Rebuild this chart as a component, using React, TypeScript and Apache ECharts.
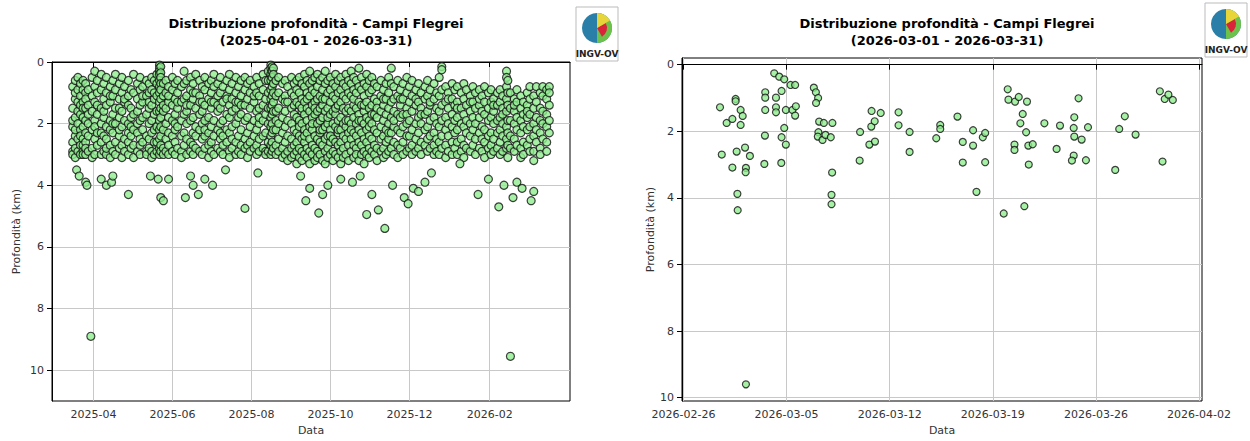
import React, { useEffect, useRef } from "react";
import * as echarts from "echarts";

// ---------- LEFT CHART DATA (days since 2025-03-01, depth km) ----------
const leftBase = Date.UTC(2025, 2, 1);
const leftBand: [number, number[]][] = [
  [15, [0.8, 1.5, 2.1, 2.6, 2.9, 3.0, 1.9]],
  [17, [0.6, 1.2, 1.8, 2.4, 2.8, 3.1, 2.2, 1.0]],
  [19, [0.5, 0.9, 1.6, 2.0, 2.5, 2.9, 1.3]],
  [21, [0.7, 1.1, 1.4, 2.2, 2.7, 3.0, 1.7, 2.4]],
  [23, [0.6, 0.9, 1.3, 1.8, 2.1, 2.5, 2.9, 3.0, 1.5, 2.7]],
  [25, [0.7, 1.0, 1.5, 1.9, 2.3, 2.6, 3.0, 1.2, 2.8]],
  [27, [0.9, 1.4, 2.0, 2.4, 2.9, 1.7]],
  [30, [0.5, 1.1, 1.6, 2.2, 2.8, 3.1]],
  [32, [0.3, 0.8, 1.3, 1.9, 2.5, 3.0, 2.1]],
  [34, [0.6, 1.0, 1.7, 2.3, 2.7, 1.4]],
  [37, [0.4, 0.9, 1.5, 2.0, 2.6, 3.0, 2.3]],
  [39, [0.7, 1.2, 1.8, 2.4, 2.9, 1.6]],
  [41, [0.5, 1.0, 1.4, 2.1, 2.5, 3.0, 2.8]],
  [44, [0.8, 1.3, 1.9, 2.2, 2.7, 1.1, 3.1]],
  [46, [0.6, 1.1, 1.7, 2.3, 2.9, 2.0]],
  [48, [0.4, 0.9, 1.5, 2.0, 2.6, 3.0]],
  [51, [0.7, 1.2, 1.8, 2.4, 2.8, 1.5, 2.2]],
  [53, [0.5, 1.0, 1.6, 2.1, 2.7, 3.1]],
  [55, [0.8, 1.3, 1.9, 2.5, 2.9, 1.2]],
  [58, [0.6, 1.1, 1.4, 2.0, 2.6, 3.0, 2.3]],
  [60, [0.9, 1.5, 2.1, 2.4, 2.8, 1.8]],
  [62, [0.4, 1.0, 1.7, 2.2, 2.7, 3.1]],
  [65, [0.7, 1.2, 1.6, 2.3, 2.9, 2.0]],
  [67, [0.5, 0.9, 1.4, 1.9, 2.5, 3.0, 2.7]],
  [69, [0.8, 1.3, 1.8, 2.2, 2.6, 1.1]],
  [72, [0.6, 1.1, 1.7, 2.4, 2.9, 3.0]],
  [74, [0.7, 1.0, 1.5, 2.0, 2.5, 2.8, 1.3]],
  [76, [0.5, 0.9, 1.4, 1.9, 2.3, 2.9, 3.1]],
  [78, [0.6, 1.2, 1.7, 2.2, 2.6, 3.0, 1.0]],
  [80, [0.4, 0.7, 1.1, 1.6, 2.1, 2.6, 2.9]],
  [82, [0.1, 0.2, 0.3, 0.4, 0.6, 0.8, 1.0, 1.3, 1.6, 1.9, 2.2, 2.5, 2.8, 3.0]],
  [83, [0.15, 0.35, 0.5, 0.7, 0.9, 1.2, 1.5, 1.8, 2.1, 2.4, 2.7, 2.9]],
  [85, [0.7, 1.1, 1.6, 2.2, 2.8, 3.0, 1.4]],
  [87, [0.6, 1.0, 1.5, 2.0, 2.5, 2.9]],
  [89, [0.8, 1.3, 1.8, 2.3, 2.7, 1.1, 3.0]],
  [92, [0.5, 0.9, 1.4, 1.9, 2.4, 2.9]],
  [94, [0.7, 1.2, 1.7, 2.2, 2.6, 3.0, 2.0]],
  [96, [0.6, 1.0, 1.5, 2.1, 2.8, 1.3]],
  [99, [0.8, 1.3, 1.9, 2.4, 2.9, 3.1]],
  [101, [0.3, 0.7, 1.2, 1.7, 2.3, 2.7]],
  [103, [0.6, 1.1, 1.6, 2.0, 2.5, 3.0, 1.4]],
  [106, [0.5, 0.9, 1.4, 1.9, 2.6, 2.9]],
  [108, [0.7, 1.2, 1.8, 2.3, 2.7, 3.0, 1.0]],
  [110, [0.4, 1.0, 1.5, 2.1, 2.4, 2.8]],
  [113, [0.6, 1.1, 1.7, 2.2, 2.9, 1.3]],
  [115, [0.8, 1.3, 1.6, 2.0, 2.5, 3.0]],
  [117, [0.5, 0.9, 1.4, 1.9, 2.4, 2.8, 2.2]],
  [120, [0.7, 1.2, 1.8, 2.3, 2.7, 3.1]],
  [122, [0.6, 1.0, 1.5, 2.1, 2.6, 2.9, 1.3]],
  [124, [0.4, 0.8, 1.3, 1.9, 2.4, 3.0]],
  [127, [0.7, 1.1, 1.6, 2.2, 2.8, 1.4]],
  [129, [0.5, 1.0, 1.5, 2.0, 2.5, 2.9, 2.3]],
  [131, [0.8, 1.3, 1.9, 2.4, 2.7, 3.0]],
  [134, [0.6, 1.1, 1.7, 2.2, 2.6, 1.2]],
  [136, [0.4, 0.9, 1.4, 1.8, 2.3, 2.9, 3.1]],
  [138, [0.7, 1.2, 1.6, 2.1, 2.5, 2.8]],
  [141, [0.5, 1.0, 1.5, 2.0, 2.6, 3.0, 1.3]],
  [143, [0.8, 1.3, 1.8, 2.4, 2.9]],
  [145, [0.6, 1.1, 1.7, 2.2, 2.7, 1.4, 3.0]],
  [148, [0.5, 0.9, 1.4, 1.9, 2.5, 2.8]],
  [150, [0.7, 1.2, 1.8, 2.3, 2.7, 3.1]],
  [152, [0.6, 1.0, 1.5, 2.1, 2.6, 2.9]],
  [155, [0.8, 1.3, 1.9, 2.4, 2.8, 1.1]],
  [157, [0.5, 1.0, 1.6, 2.2, 2.7, 3.0]],
  [159, [0.7, 1.1, 1.5, 2.0, 2.5, 2.9, 1.8]],
  [162, [0.4, 0.9, 1.4, 1.9, 2.4, 2.8]],
  [164, [0.6, 1.2, 1.7, 2.3, 2.9, 3.0]],
  [166, [0.3, 0.6, 1.0, 1.5, 2.0, 2.6, 2.9]],
  [168, [0.1, 0.2, 0.4, 0.6, 0.9, 1.2, 1.5, 1.8, 2.1, 2.4, 2.7, 3.0]],
  [169, [0.15, 0.3, 0.5, 0.8, 1.1, 1.4, 1.7, 2.0, 2.3, 2.6, 2.9]],
  [170, [0.2, 0.4, 0.7, 1.0, 1.3, 1.6, 2.2, 2.8]],
  [172, [0.6, 1.1, 1.6, 2.2, 2.7, 3.0, 1.9]],
  [174, [0.5, 1.0, 1.5, 2.0, 2.5, 2.9]],
  [177, [0.7, 1.2, 1.8, 2.3, 2.8, 3.1]],
  [179, [0.6, 1.1, 1.6, 2.1, 2.6, 3.0, 1.3]],
  [181, [0.8, 1.3, 1.9, 2.4, 2.9, 3.2]],
  [184, [0.5, 1.0, 1.5, 2.0, 2.5, 2.8, 3.1]],
  [186, [0.7, 1.1, 1.7, 2.2, 2.7, 3.0, 1.4]],
  [188, [0.6, 0.9, 1.3, 1.8, 2.3, 2.6, 2.9, 3.3]],
  [190, [0.5, 1.0, 1.4, 1.9, 2.4, 2.8, 3.1, 2.1]],
  [192, [0.7, 1.2, 1.6, 2.0, 2.5, 2.9, 3.2, 1.5]],
  [194, [0.4, 0.8, 1.3, 1.7, 2.2, 2.6, 3.0, 2.4]],
  [196, [0.6, 1.0, 1.5, 1.9, 2.3, 2.8, 3.1, 1.2]],
  [198, [0.3, 0.7, 1.1, 1.6, 2.1, 2.5, 2.9, 3.3]],
  [200, [0.6, 0.9, 1.4, 1.8, 2.2, 2.7, 3.0, 2.0]],
  [202, [0.5, 1.0, 1.3, 1.7, 2.4, 2.8, 3.2, 1.5]],
  [204, [0.4, 0.8, 1.2, 1.6, 2.0, 2.5, 2.9, 3.1]],
  [206, [0.6, 1.1, 1.5, 1.9, 2.3, 2.6, 3.0, 2.2]],
  [208, [0.5, 0.9, 1.4, 1.8, 2.2, 2.7, 3.2, 1.2]],
  [210, [0.3, 0.7, 1.2, 1.6, 2.1, 2.5, 2.9, 3.3]],
  [212, [0.6, 1.0, 1.5, 2.0, 2.4, 2.8, 3.1, 1.8]],
  [214, [0.5, 0.9, 1.3, 1.7, 2.2, 2.6, 3.0, 2.4]],
  [216, [0.7, 1.1, 1.6, 2.0, 2.5, 2.9, 3.2]],
  [218, [0.4, 0.8, 1.2, 1.7, 2.1, 2.6, 3.0, 1.5]],
  [220, [0.6, 1.0, 1.4, 1.9, 2.3, 2.7, 3.1, 2.2]],
  [222, [0.5, 0.9, 1.3, 1.8, 2.2, 2.6, 2.9, 3.3]],
  [224, [0.7, 1.1, 1.5, 2.0, 2.4, 2.8, 3.1]],
  [226, [0.4, 0.8, 1.2, 1.6, 2.1, 2.5, 3.0, 1.9]],
  [228, [0.6, 1.0, 1.5, 1.9, 2.3, 2.7, 3.2]],
  [230, [0.3, 0.7, 1.1, 1.6, 2.0, 2.5, 2.9, 2.2]],
  [232, [0.5, 0.9, 1.4, 1.8, 2.3, 2.7, 3.1, 1.2]],
  [234, [0.6, 1.0, 1.5, 2.0, 2.4, 2.8, 3.0]],
  [236, [0.2, 0.8, 1.3, 1.7, 2.2, 2.6, 3.2, 1.9]],
  [238, [0.5, 0.9, 1.4, 1.9, 2.3, 2.7, 3.0]],
  [240, [0.7, 1.1, 1.6, 2.0, 2.5, 2.9, 3.3, 1.4]],
  [242, [0.4, 0.8, 1.3, 1.8, 2.2, 2.6, 3.0]],
  [244, [0.6, 1.0, 1.5, 1.9, 2.4, 2.8, 3.1, 2.1]],
  [246, [0.5, 0.9, 1.4, 2.0, 2.5, 2.9, 1.7]],
  [248, [0.7, 1.2, 1.7, 2.2, 2.7, 3.0]],
  [250, [0.8, 1.3, 1.8, 2.3, 2.8, 3.2, 1.5]],
  [253, [0.6, 1.1, 1.6, 2.1, 2.5, 2.9]],
  [255, [0.9, 1.4, 1.9, 2.4, 2.8, 3.1, 1.2]],
  [257, [0.7, 1.2, 1.7, 2.2, 2.6, 3.0]],
  [259, [0.5, 1.0, 1.5, 2.0, 2.5, 2.9, 2.3]],
  [261, [0.2, 0.7, 1.3, 1.8, 2.3, 2.8]],
  [263, [0.8, 1.2, 1.6, 2.1, 2.6, 3.0, 1.9]],
  [266, [0.6, 1.1, 1.7, 2.2, 2.7, 3.1]],
  [268, [0.9, 1.4, 1.8, 2.3, 2.8, 1.2]],
  [270, [0.7, 1.2, 1.7, 2.1, 2.6, 3.0]],
  [273, [0.5, 1.0, 1.5, 2.0, 2.4, 2.9, 1.7]],
  [275, [0.8, 1.3, 1.9, 2.4, 2.8]],
  [277, [0.6, 1.1, 1.6, 2.2, 2.7, 3.0]],
  [280, [0.9, 1.4, 2.0, 2.5, 2.9, 1.2]],
  [282, [0.7, 1.3, 1.8, 2.3, 2.8]],
  [284, [1.0, 1.5, 2.0, 2.6, 3.0, 1.7]],
  [287, [0.8, 1.2, 1.7, 2.2, 2.7]],
  [289, [0.6, 1.1, 1.6, 2.1, 2.5, 2.9]],
  [291, [0.9, 1.4, 1.9, 2.4, 2.8, 1.3]],
  [294, [0.7, 1.2, 1.8, 2.3, 2.7, 3.0]],
  [296, [1.0, 1.5, 2.0, 2.5, 2.9]],
  [298, [0.5, 1.1, 1.6, 2.1, 2.6, 3.0]],
  [300, [0.15, 0.25, 0.9, 1.4, 1.9, 2.4, 2.8]],
  [303, [0.8, 1.3, 1.8, 2.2, 2.7, 3.1]],
  [305, [1.0, 1.5, 2.0, 2.4, 2.9, 1.2]],
  [308, [0.7, 1.2, 1.7, 2.1, 2.6, 3.0]],
  [310, [0.9, 1.4, 1.9, 2.3, 2.8]],
  [312, [0.8, 1.3, 1.8, 2.2, 2.6, 3.0, 1.5]],
  [315, [1.0, 1.5, 2.0, 2.5, 2.9]],
  [317, [0.7, 1.2, 1.7, 2.1, 2.7, 3.1]],
  [319, [0.9, 1.4, 1.9, 2.3, 2.8]],
  [322, [1.1, 1.6, 2.0, 2.4, 2.9, 1.3]],
  [324, [0.8, 1.3, 1.8, 2.2, 2.7]],
  [326, [1.0, 1.5, 2.0, 2.5, 3.0]],
  [329, [0.9, 1.4, 1.8, 2.3, 2.8, 1.2]],
  [331, [1.1, 1.6, 2.1, 2.5, 2.9]],
  [333, [0.8, 1.3, 1.7, 2.2, 2.6, 3.1]],
  [336, [1.0, 1.5, 1.9, 2.4, 2.8]],
  [338, [0.9, 1.3, 1.8, 2.3, 2.7, 3.0]],
  [340, [1.2, 1.6, 2.0, 2.5, 2.9, 1.4]],
  [343, [1.0, 1.4, 1.9, 2.3, 2.8]],
  [345, [0.9, 1.3, 1.8, 2.2, 2.6, 3.0]],
  [347, [1.1, 1.5, 2.0, 2.4, 2.9, 1.7]],
  [350, [0.3, 0.5, 0.8, 1.2, 1.6, 2.1, 2.5, 2.8]],
  [351, [0.6, 1.0, 1.4, 1.9, 2.3, 2.7, 3.1]],
  [353, [1.0, 1.5, 1.9, 2.4, 2.8]],
  [356, [1.2, 1.6, 2.0, 2.5, 2.9, 1.4]],
  [358, [0.9, 1.3, 1.8, 2.2, 2.7]],
  [361, [1.1, 1.5, 1.9, 2.3, 2.8, 3.1]],
  [363, [1.3, 1.7, 2.1, 2.6, 3.0]],
  [366, [1.0, 1.4, 1.8, 2.2, 2.7, 1.6]],
  [368, [0.8, 1.2, 1.7, 2.1, 2.5, 2.9]],
  [371, [1.1, 1.5, 2.0, 2.4, 2.9, 3.2]],
  [373, [0.8, 1.3, 1.8, 2.2, 2.6]],
  [376, [1.0, 1.5, 1.9, 2.3, 2.8, 3.0]],
  [378, [0.8, 1.1, 1.6, 2.0, 2.5]],
  [381, [0.9, 1.2, 1.7, 2.1, 2.6, 2.9]],
  [383, [0.8, 1.0, 1.4, 1.9, 2.3]],
];
// deeper scattered events: [day, depth]
const leftDeep: [number, number][] = [
  [18, 3.5], [20, 3.7], [25, 3.9], [26, 4.0], [29, 8.9], [37, 3.8], [41, 4.0], [45, 3.9], [46, 3.7],
  [58, 4.3], [75, 3.7], [81, 3.8], [83, 4.4], [85, 4.5], [89, 3.8], [102, 4.4], [106, 3.7],
  [108, 4.0], [112, 4.3], [117, 3.8], [123, 4.0], [133, 3.5], [148, 4.75], [158, 3.6],
  [191, 3.7], [195, 4.5], [198, 4.1], [205, 4.9], [208, 4.3], [212, 4.0], [222, 3.8],
  [231, 3.9], [237, 3.7], [242, 4.95], [246, 4.3], [251, 4.8], [256, 5.4], [262, 4.0],
  [271, 4.4], [274, 4.6], [278, 4.1], [282, 4.2], [287, 3.9], [292, 3.6], [314, 3.3],
  [328, 4.3], [336, 3.8], [344, 4.7], [348, 4.0], [353, 9.55], [355, 4.4], [358, 3.9],
  [362, 4.1], [369, 4.5], [371, 4.2],
];

// ---------- RIGHT CHART DATA (days since 2026-02-26, depth km) ----------
const rightBase = Date.UTC(2026, 1, 26);
const rightDays: number[] = [
  2.48, 2.6, 2.93, 3.32, 3.32, 3.54, 3.54, 3.61, 3.66, 3.68, 3.88, 3.88, 4.02, 4.18, 4.24, 4.22, 4.51, 4.24,
  5.49, 5.53, 5.55, 5.55, 5.55, 6.16, 6.28, 6.28, 6.28, 6.5, 6.66, 6.66, 6.64, 6.84, 6.84, 6.95, 6.95,
  7.27, 7.58, 7.4, 7.63, 7.58, 8.85, 8.99, 9.14, 9.0, 9.21, 9.53, 10.11, 9.16, 9.12, 9.44, 9.64, 10.0,
  10.09, 10.05, 10.05, 11.99, 11.96, 12.62, 13.0, 12.75, 12.98, 12.77, 13.39, 14.6, 14.6, 15.35, 15.35,
  17.16, 17.43, 17.43, 18.6, 18.96, 18.96, 19.66, 19.66, 19.89, 20.32, 20.48, 20.48,
  22.01, 22.06, 22.51, 22.76, 23.32, 23.03, 22.87, 23.26, 22.47, 22.47, 23.41, 23.71, 23.44, 21.74,
  23.14, 24.5, 25.33, 25.56, 26.49, 26.53, 26.82, 26.53, 27.03, 27.46, 26.49, 26.37, 27.32,
  29.31, 29.58, 29.96, 30.69, 32.34, 32.67, 32.92, 33.22, 32.52,
];
const rightDepths: number[] = [
  1.28, 2.7, 1.75, 1.63, 3.09, 1.03, 1.1, 2.61, 3.88, 4.37, 1.36, 1.81, 1.54, 2.49, 3.1, 3.23, 2.74, 9.6,
  2.98, 2.13, 0.83, 0.99, 1.36, 0.26, 0.99, 1.28, 1.43, 0.36, 0.79, 2.18, 2.95, 0.44, 1.9, 2.4, 1.36,
  0.61, 0.61, 1.36, 1.25, 1.53, 0.69, 0.83, 1.0, 1.15, 1.71, 1.75, 1.75, 2.03, 2.16, 2.26, 2.11, 2.18,
  3.24, 3.91, 4.19, 2.02, 2.88, 2.4, 2.31, 1.86, 1.7, 1.39, 1.45, 1.43, 1.82, 2.02, 2.62,
  2.21, 1.81, 1.93, 1.56, 2.32, 2.94, 1.97, 2.43, 3.82, 2.18, 2.05, 2.93,
  0.74, 1.05, 1.11, 0.97, 1.11, 1.48, 1.76, 2.03, 2.4, 2.56, 2.43, 2.39, 3.0, 4.47,
  4.25, 1.76, 2.53, 1.83, 1.9, 1.58, 1.01, 2.16, 2.25, 1.88, 2.73, 2.88, 2.87,
  3.16, 1.93, 1.55, 2.1, 0.8, 1.03, 0.9, 1.06, 2.91,
];

const leftTicks = ["2025-04-01", "2025-06-01", "2025-08-01", "2025-10-01", "2025-12-01", "2026-02-01"];
const rightTicks = ["2026-02-26", "2026-03-05", "2026-03-12", "2026-03-19", "2026-03-26", "2026-04-02"];
const depthTicks = [0, 2, 4, 6, 8, 10];

const DAY = 86400000;
const ts = (s: string) => Date.parse(s + "T00:00:00Z");
const fmtMonth = (v: number) => {
  const d = new Date(v);
  return `${d.getUTCFullYear()}-${String(d.getUTCMonth() + 1).padStart(2, "0")}`;
};
const fmtDay = (v: number) => {
  const d = new Date(v);
  return `${fmtMonth(v)}-${String(d.getUTCDate()).padStart(2, "0")}`;
};

export default function App() {
  const ref = useRef<HTMLDivElement>(null);
  useEffect(() => {
    if (!ref.current) return;
    const chart = echarts.init(ref.current, undefined, { renderer: "svg" });
    const leftData: number[][] = [];
    leftBand.forEach(([d, arr]) => arr.forEach((v) => leftData.push([leftBase + d * DAY, v])));
    leftDeep.forEach(([d, v]) => leftData.push([leftBase + d * DAY, v]));
    const rightData = rightDays.map((d, i) => [rightBase + d * DAY, rightDepths[i]]);

    const font = "DejaVu Sans";
    const axisLabel = { color: "#333", fontSize: 11, fontFamily: font };
    const splitLine = { show: true, lineStyle: { color: "#c8c8c8", width: 1 } };
    const marker = { color: "#90ee90", borderColor: "#111", borderWidth: 1.2 };
    const logo = (x: number, y: number) => ({
      type: "group",
      x,
      y,
      children: [
        { type: "rect", shape: { x: 0, y: 0, width: 42, height: 54 }, style: { fill: "#fff", stroke: "#bbb", lineWidth: 1 } },
        { type: "circle", shape: { cx: 21, cy: 21, r: 15 }, style: { fill: "#2a7fa8" } },
        { type: "sector", shape: { cx: 21, cy: 21, r: 15, startAngle: -Math.PI / 2, endAngle: Math.PI / 2 }, style: { fill: "#6cc24a" } },
        { type: "sector", shape: { cx: 21, cy: 21, r: 10, startAngle: -Math.PI / 6, endAngle: Math.PI / 3 }, style: { fill: "#d9243a" } },
        { type: "sector", shape: { cx: 21, cy: 21, r: 15, startAngle: -Math.PI / 2, endAngle: -Math.PI / 6 }, style: { fill: "#e8d53a" } },
        { type: "text", x: 21, y: 47, style: { text: "INGV-OV", fill: "#222", font: `bold 9px ${font}`, align: "center", verticalAlign: "middle" } },
      ],
    });

    chart.setOption({
      animation: false,
      backgroundColor: "#fff",
      title: [
        {
          text: "Distribuzione profondità - Campi Flegrei\n(2025-04-01 - 2026-03-31)",
          left: 311,
          top: 10,
          textAlign: "center",
          textStyle: { fontFamily: font, fontSize: 13, fontWeight: "bold", color: "#000", lineHeight: 17 },
        },
        {
          text: "Distribuzione profondità - Campi Flegrei\n(2026-03-01 - 2026-03-31)",
          left: 942,
          top: 10,
          textAlign: "center",
          textStyle: { fontFamily: font, fontSize: 13, fontWeight: "bold", color: "#000", lineHeight: 17 },
        },
      ],
      grid: [
        { left: 52, right: 680, top: 62, bottom: 38, show: true, borderColor: "#000", borderWidth: 1 },
        { left: 682, right: 48, top: 58, bottom: 38, show: true, borderColor: "#000", borderWidth: 1 },
      ],
      xAxis: [
        {
          gridIndex: 0,
          type: "value",
          min: Date.UTC(2025, 1, 28),
          max: Date.UTC(2026, 3, 4),
          name: "Data",
          nameLocation: "middle",
          nameGap: 24,
          nameTextStyle: { ...axisLabel },
          axisLine: { lineStyle: { color: "#000" } },
          axisTick: { show: true, customValues: leftTicks.map(ts), lineStyle: { color: "#000" } },
          axisLabel: { ...axisLabel, customValues: leftTicks.map(ts), formatter: (v: number) => fmtMonth(v) },
          splitLine,
        },
        {
          gridIndex: 1,
          type: "value",
          min: rightBase - 0.1 * DAY,
          max: ts("2026-04-02") + 0.2 * DAY,
          name: "Data",
          nameLocation: "middle",
          nameGap: 24,
          nameTextStyle: { ...axisLabel },
          axisLine: { lineStyle: { color: "#000" } },
          axisTick: { show: true, customValues: rightTicks.map(ts), lineStyle: { color: "#000" } },
          axisLabel: { ...axisLabel, customValues: rightTicks.map(ts), formatter: (v: number) => fmtDay(v) },
          splitLine,
        },
      ],
      yAxis: [
        {
          gridIndex: 0,
          type: "value",
          inverse: true,
          min: 0,
          max: 11,
          name: "Profondità (km)",
          nameLocation: "middle",
          nameGap: 30,
          nameTextStyle: { ...axisLabel },
          axisLine: { show: true, lineStyle: { color: "#000" } },
          axisTick: { show: true, customValues: depthTicks, lineStyle: { color: "#000" } },
          axisLabel: { ...axisLabel, customValues: depthTicks },
          splitLine,
        },
        {
          gridIndex: 1,
          type: "value",
          inverse: true,
          min: -0.2,
          max: 10.1,
          name: "Profondità (km)",
          nameLocation: "middle",
          nameGap: 26,
          nameTextStyle: { ...axisLabel },
          axisLine: { show: true, lineStyle: { color: "#000" } },
          axisTick: { show: true, customValues: depthTicks, lineStyle: { color: "#000" } },
          axisLabel: { ...axisLabel, customValues: depthTicks },
          splitLine,
        },
      ],
      graphic: [logo(576, 7), logo(1205, 3)],
      series: [
        { type: "scatter", xAxisIndex: 0, yAxisIndex: 0, data: leftData, symbolSize: 8, itemStyle: marker, silent: true },
        { type: "scatter", xAxisIndex: 1, yAxisIndex: 1, data: rightData, symbolSize: 7, itemStyle: marker, silent: true },
      ],
    });
    return () => chart.dispose();
  }, []);
  return <div ref={ref} style={{ position: "fixed", left: 0, top: 0, width: 1250, height: 441, background: "#fff" }} />;
}
